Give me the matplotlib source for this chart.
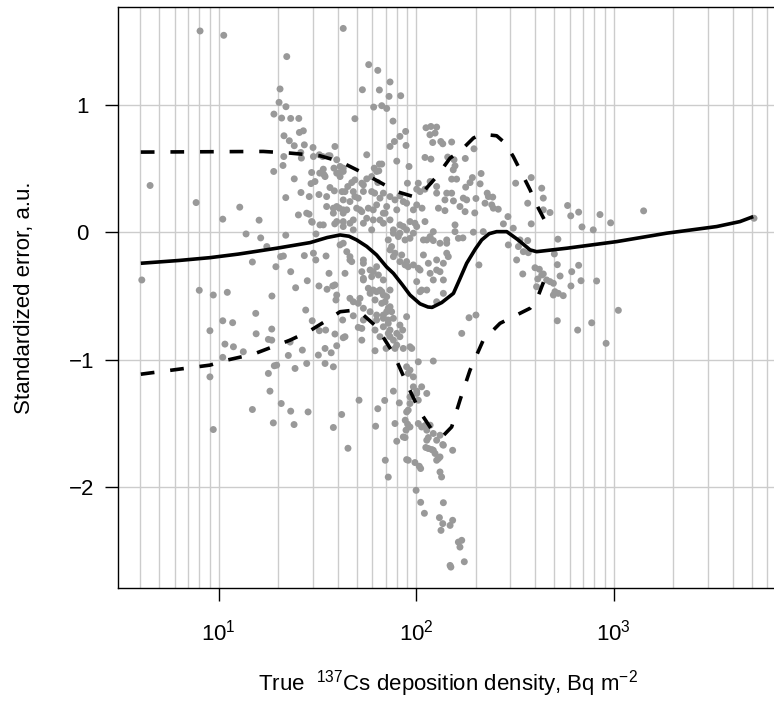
import matplotlib
matplotlib.use("Agg")
import matplotlib.pyplot as plt
from matplotlib.ticker import LogLocator, NullFormatter
import numpy as np

plt.rcParams['font.family'] = ['Liberation Sans', 'DejaVu Sans']

# scatter: log10 of true deposition density and standardized error
log_dep = [
    0.906, 1.026, 1.631, 1.345, 1.76, 1.806, 1.868, 1.728, 1.814, 1.863, 1.922, 1.311, 1.306, 1.341,
    1.28, 1.319, 1.365, 1.406, 1.69, 1.785, 1.826, 1.851, 1.883, 0.653, 0.886, 1.107, 1.021, 1.205,
    1.139, 1.213, 1.34, 1.409, 1.429, 1.331, 1.358, 1.383, 1.434, 1.416, 1.478, 1.33, 1.326, 1.279,
    1.419, 1.471, 1.512, 1.53, 1.534, 1.564, 1.589, 1.383, 1.34, 1.417, 1.459, 1.468, 1.508, 1.547,
    1.404, 1.458, 1.474, 1.53, 1.588, 1.631, 1.75, 1.902, 1.949, 1.947, 1.918, 1.89, 1.868, 1.814,
    1.788, 1.811, 1.806, 1.75, 1.69, 1.674, 1.654, 1.625, 1.586, 1.564, 1.606, 1.584, 1.615, 1.707,
    1.733, 1.79, 1.834, 1.868, 1.893, 1.935, 1.547, 1.581, 1.611, 1.631, 1.665, 1.699, 1.758, 1.8,
    1.851, 1.834, 1.902, 1.598, 1.631, 1.682, 1.733, 1.783, 1.834, 1.885, 1.935,
    2.05, 2.075, 2.104, 2.07, 2.096, 2.084, 2.125, 2.135, 1.964, 2.18, 2.16, 2.192, 2.197, 2.188,
    2.045, 2.075, 2.249, 2.293, 2.285, 2.329, 2.324, 2.251, 2.273, 2.18, 2.205, 2.045, 2.104, 2.104,
    2.155, 2.18, 1.956, 2.011, 2.003, 2.02, 2.146, 2.189, 2.113, 2.146, 2.222, 2.248, 2.239, 2.256,
    2.297, 2.303, 2.349, 2.366, 2.388, 2.383, 2.391, 2.416, 2.36, 2.504, 2.565, 2.583, 2.636, 2.644,
    2.644, 2.678, 2.465, 2.442, 2.492, 2.583, 2.767, 2.823, 2.84, 2.897, 2.718, 2.565, 2.526, 2.467,
    2.29, 2.34, 2.237, 2.197, 2.214, 2.155, 2.121, 2.087, 2.054, 2.037, 2.087, 2.045, 1.994, 1.986,
    1.48, 1.527, 1.555, 1.539, 1.598, 1.615, 1.631, 1.725, 1.775, 1.826, 1.64, 1.682, 1.775, 1.817,
    1.918, 1.446, 1.471, 1.513, 1.581, 1.631, 1.631, 1.682, 1.725, 1.75, 1.775, 1.817, 1.843, 1.868,
    1.952, 2.003, 2.003, 1.969, 1.918, 1.885, 1.859, 1.918, 1.952, 1.944,
    0.611, 0.902, 0.973, 1.044, 1.171, 1.244, 1.29, 1.314, 1.328, 1.365, 1.39, 1.27, 1.434, 1.48,
    1.492, 1.544, 1.559, 1.449, 1.508, 1.549, 1.578, 1.598, 1.594, 1.615, 1.649, 1.665, 1.631, 1.733,
    1.733, 1.783, 1.809, 1.758, 1.767, 1.8, 1.826, 1.851, 1.868, 1.834, 1.868, 1.885, 1.918, 1.944,
    1.665, 1.707, 1.733, 1.767, 1.8, 1.8, 1.834, 1.859, 1.876, 1.885, 1.859, 1.868, 1.834, 1.918,
    1.952, 1.932, 1.885, 1.902, 1.935, 1.707, 1.725, 1.792, 1.848, 1.188, 1.19, 1.269, 1.252, 1.269,
    1.362, 1.424, 1.353, 1.294, 1.282, 1.252, 1.387, 1.446, 1.441, 1.474, 1.51, 1.542, 1.505, 1.539,
    1.57, 1.539, 1.581, 1.598, 1.631, 1.589, 1.628, 1.021, 1.071, 1.032, 1.075, 1.021, 1.125, 0.956,
    0.956, 0.973, 1.171, 1.26, 1.317, 1.365, 1.277, 1.382, 1.453, 1.581, 1.623, 1.655, 1.711, 1.795,
    1.806, 1.841, 1.844, 1.859, 1.893, 1.902, 1.935, 1.915, 1.952, 1.952,
    1.682, 1.885, 1.945, 1.957, 1.969, 1.949, 1.96, 1.994, 2.016, 2.023, 1.96, 1.969, 1.969, 1.986,
    2.003, 2.028, 2.054, 2.003, 2.011, 2.011, 2.028, 2.054, 2.062, 2.054, 2.062, 2.087, 2.096, 2.104,
    2.121, 2.087, 2.104, 2.138, 2.185, 2.071, 2.087, 2.011, 1.978, 1.952, 1.96, 1.969, 1.986, 1.902,
    2.129, 2.121,
    2.0, 2.023, 2.042, 2.138, 2.118, 2.135, 2.126, 2.172, 2.185, 2.214, 2.231, 2.222, 2.172, 2.176,
    2.244, 1.944, 2.045, 2.049, 2.079, 2.121, 2.135, 2.113,
    2.783, 2.931, 2.985, 3.152, 3.711, 2.518, 2.543, 2.568, 2.509, 2.54, 2.602, 2.624, 2.636, 2.616,
    2.644, 2.678, 2.7, 2.715, 2.729, 2.788, 2.823, 2.835, 2.784, 2.914, 2.703, 2.695, 2.72, 2.745,
    2.715, 2.818, 2.889, 3.024, 2.962,
    1.51, 1.488, 1.493,
    1.665, 1.674, 1.733, 1.767, 1.8, 1.775, 1.733, 1.725, 1.64, 1.589, 1.682, 1.716, 1.783, 1.817,
    1.834, 1.792, 1.826, 1.843, 1.868, 1.851, 1.834, 1.859, 1.859, 1.868, 1.792, 1.733, 1.725, 1.64,
    1.817, 1.918, 1.893, 1.969, 2.003, 2.028, 2.071, 2.062, 2.104, 2.138, 2.163, 2.155, 2.037, 1.986,
    2.011, 1.952, 1.927, 1.893, 1.876, 1.91, 1.969, 2.071, 2.231, 2.268, 2.303, 2.318, 2.61, 2.661,
    2.695,
    2.03, 1.986, 2.071, 2.197, 1.598, 1.631, 1.733, 1.8, 1.69, 1.598, 1.649, 1.716, 1.783, 1.665,
    2.104, 2.121, 2.087, 2.138, 2.054, 2.02, 2.104, 2.138, 1.96, 2.02, 2.155,
]
std_err = [
    1.58, 1.546, 1.60, 1.379, 1.316, 1.271, 1.18, 1.119, 1.117, 1.067, 1.072, 1.125, 1.02, 0.986,
    0.928, 0.897, 0.894, 0.894, 0.892, 0.983, 0.994, 0.972, 0.873, 0.368, 0.234, 0.198, 0.104, 0.096,
    -0.012, -0.043, -0.022, 0.784, 0.797, 0.758, 0.719, 0.68, 0.687, 0.627, 0.666, 0.595, 0.525, 0.478,
    0.583, 0.47, 0.465, 0.496, 0.452, 0.601, 0.674, 0.42, 0.273, 0.313, 0.281, 0.383, 0.297, 0.281,
    0.137, 0.143, 0.08, 0.059, 0.067, 0.085, 0.609, 0.559, 0.682, 0.792, 0.753, 0.713, 0.674, 0.536,
    0.504, 0.483, 0.391, 0.42, 0.412, 0.391, 0.36, 0.32, 0.326, 0.352, 0.465, 0.504, 0.517, 0.269,
    0.321, 0.308, 0.308, 0.281, 0.255, 0.242, 0.203, 0.19, 0.19, 0.177, 0.242, 0.19, 0.19, 0.216,
    0.203, 0.151, 0.177, 0.085, 0.046, 0.02, 0.072, 0.098, 0.072, 0.02, 0.046,
    0.821, 0.831, 0.826, 0.766, 0.779, 0.705, 0.713, 0.695, 0.517, 0.709, 0.591, 0.57, 0.522, 0.491,
    0.588, 0.575, 0.58, 0.656, 0.43, 0.462, 0.381, 0.355, 0.391, 0.418, 0.418, 0.339, 0.36, 0.308,
    0.308, 0.308, 0.386, 0.386, 0.339, 0.32, 0.255, 0.247, 0.19, 0.171, 0.203, 0.163, 0.269, 0.255,
    0.153, 0.266, 0.229, 0.281, 0.277, 0.216, 0.19, 0.182, 0.308, 0.386, 0.229, 0.43, 0.347, 0.269,
    0.177, 0.156, 0.124, 0.067, 0.033, 0.067, 0.211, 0.159, 0.043, 0.02, -0.053, -0.064, -0.059, -0.098,
    0.002, 0.006, -0.043, 0.006, -0.046, -0.059, -0.085, -0.064, -0.059, -0.059, 0.006, 0.085, 0.072, -0.006,
    0.595, 0.595, 0.601, 0.438, 0.465, 0.438, 0.478, 0.386, 0.438, 0.536, 0.32, 0.32, 0.32, 0.269,
    0.287, 0.151, 0.085, 0.059, 0.151, 0.255, 0.151, 0.098, 0.163, 0.111, 0.02, 0.098, 0.151, 0.098,
    0.229, 0.216, 0.046, 0.085, 0.059, -0.006, -0.059, -0.006, 0.02, -0.059,
    -0.373, -0.454, -0.491, -0.47, -0.232, -0.111, -0.269, -0.19, -0.185, -0.308, -0.434, -0.499, -0.182, -0.163,
    -0.216, -0.185, -0.321, -0.379, -0.42, -0.446, -0.42, -0.491, -0.53, -0.098, -0.151, -0.216, -0.085, -0.242,
    -0.36, -0.308, -0.334, -0.438, -0.478, -0.465, -0.465, -0.504, -0.452, -0.373, -0.137, -0.19, -0.229, -0.255,
    -0.517, -0.556, -0.595, -0.622, -0.648, -0.687, -0.648, -0.595, -0.622, -0.674, -0.713, -0.766, -0.74, -0.727,
    -0.661, -0.766, -0.845, -0.884, -0.91, -0.745, -0.845, -0.928, -0.91, -0.635, -0.795, -0.758, -0.839, -0.845,
    -0.86, -0.923, -0.965, -1.041, -1.046, -1.106, -1.067, -1.028, -0.609, -0.693, -0.771, -0.766, -0.962, -0.91,
    -0.944, -1.028, -1.054, -0.889, -0.826, -0.797, -0.687, -0.693, -0.708, -0.876, -0.897, -0.98, -0.936, -0.771,
    -1.133, -1.546, -1.389, -1.245, -1.342, -1.402, -1.494, -1.507, -1.408, -1.53, -1.428, -1.693, -1.316, -1.52,
    -1.383, -1.318, -1.787, -1.919, -1.499, -1.638, -1.604, -1.337, -1.408, -1.782,
    -0.654, -1.245, -1.473, -1.504, -1.526, -1.551, -1.787, -1.805, -1.834, -1.852, -1.394, -1.342, -1.29, -1.211,
    -1.245, -1.211, -1.263, -1.263, -1.316, -1.499, -1.526, -1.551, -1.609, -1.63, -1.695, -1.709, -1.734, -1.787,
    -1.761, -1.577, -1.63, -1.669, -1.709, -1.512, -1.009, -1.015, -0.91, -1.054, -1.106, -1.08, -1.133, -0.792,
    -1.918, -1.879,
    -2.023, -2.117, -2.203, -2.12, -2.237, -2.284, -2.337, -2.298, -2.258, -2.429, -2.415, -2.468, -2.612, -2.625,
    -2.583, -1.609, -1.515, -1.687, -1.703, -1.591, -1.664, -1.774,
    0.13, 0.14, 0.075, 0.169, 0.111, -0.111, -0.151, -0.159, -0.216, -0.326, -0.277, -0.289, -0.334, -0.365,
    -0.326, -0.386, -0.169, -0.253, -0.342, -0.308, -0.258, -0.379, -0.42, -0.381, -0.465, -0.491, -0.478, -0.496,
    -0.693, -0.766, -0.709, -0.611, -0.87,
    0.609, 0.399, -0.012,
    -0.19, -0.229, -0.216, -0.295, -0.269, -0.347, -0.373, -0.308, -0.321, -0.412, -0.544, -0.517, -0.452, -0.452,
    -0.491, -0.53, -0.556, -0.544, -0.583, -0.622, -0.674, -0.687, -0.792, -0.818, -0.766, -0.687, -0.753, -0.818,
    -0.818, -0.818, -0.91, -0.897, -0.386, -0.452, -0.321, -0.242, -0.216, -0.242, -0.19, -0.085, -0.177, -0.255,
    -0.281, -0.229, -0.177, -0.163, -0.111, -0.033, -0.046, -0.033, -0.792, -0.669, -0.648, -0.255, -0.426, -0.373,
    -0.399,
    0.19, 0.177, 0.399, 0.059, 0.57, 0.504, 0.373, 0.478, 0.281, 0.203, 0.177, 0.177, 0.177, 0.072,
    -0.295, -0.308, -0.373, -0.373, -0.452, -0.465, -0.544, -0.478, -0.269, -0.295, -0.163,
]

# smoothed mean and band (log10 x, y)
mean_lx = [0.606, 0.8, 0.956, 1.1, 1.294, 1.463, 1.55, 1.615, 1.66, 1.699, 1.75, 1.8, 1.85, 1.885,
           1.93, 1.969, 2.02, 2.06, 2.081, 2.13, 2.189, 2.22, 2.256, 2.3, 2.332, 2.37, 2.408, 2.459,
           2.517, 2.577, 2.61, 2.763, 3.016, 3.269, 3.522, 3.64, 3.707]
mean_y = [-0.242, -0.22, -0.198, -0.17, -0.124, -0.08, -0.04, -0.02, -0.03, -0.059, -0.11, -0.177,
          -0.27, -0.321, -0.41, -0.491, -0.56, -0.585, -0.588, -0.55, -0.478, -0.37, -0.242, -0.13,
          -0.059, -0.01, 0.006, 0.006, -0.059, -0.137, -0.151, -0.124, -0.072, -0.006, 0.046, 0.085, 0.124]

upper_lx = [0.606, 1.226, 1.362, 1.513, 1.615, 1.733, 1.902, 1.986, 2.037, 2.104, 2.172, 2.222,
            2.29, 2.332, 2.408, 2.45, 2.492, 2.526, 2.577, 2.619, 2.65]
upper_y = [0.63, 0.635, 0.622, 0.601, 0.556, 0.465, 0.32, 0.281, 0.32, 0.438, 0.583, 0.635,
           0.74, 0.771, 0.758, 0.701, 0.595, 0.491, 0.334, 0.19, 0.098]

lower_lx = [0.606, 0.956, 1.041, 1.176, 1.362, 1.463, 1.564, 1.615, 1.691, 1.733, 1.8, 1.885, 1.96,
            2.02, 2.087, 2.113, 2.14, 2.18, 2.222, 2.273, 2.34, 2.425, 2.492, 2.577, 2.61, 2.645]
lower_y = [-1.112, -1.041, -1.002, -0.955, -0.845, -0.771, -0.674, -0.622, -0.609, -0.648, -0.74,
           -0.949, -1.211, -1.408, -1.565, -1.577, -1.59, -1.526, -1.316, -1.08, -0.845, -0.713,
           -0.661, -0.595, -0.53, -0.39]

W, H = 774, 702
fig = plt.figure(figsize=(W / 100, H / 100), dpi=100)
ax = fig.add_axes([117.5 / W, (H - 588) / H, (779 - 117.5) / W, 581 / H])

grid_c = '#cccccc'
ax.set_xscale('log')
ax.set_xlim(10 ** 0.488, 10 ** 3.8375)
ax.set_ylim(-2.789, 1.768)
ax.xaxis.set_minor_locator(LogLocator(base=10, subs=np.arange(2, 10), numticks=50))
ax.xaxis.set_minor_formatter(NullFormatter())
ax.set_xticks([10, 100, 1000])
ax.set_yticks([-2, -1, 0, 1])
ax.grid(True, which='major', color=grid_c, lw=1.0, zorder=0)
ax.grid(True, which='minor', axis='x', color=grid_c, lw=1.0, zorder=0)
ax.set_axisbelow(True)

ax.scatter(10 ** np.array(log_dep), std_err, s=25, color='#999999', edgecolors='none', zorder=2)

ax.plot(10 ** np.array(mean_lx), mean_y, color='black', lw=2.6, zorder=3,
        solid_capstyle='butt')
for lx, ly in [(upper_lx, upper_y), (lower_lx, lower_y)]:
    ax.plot(10 ** np.array(lx), ly, color='black', lw=2.6, zorder=3,
            dashes=(3.8, 4.4), dash_capstyle='butt')

for s in ax.spines.values():
    s.set_linewidth(1.0)
ax.tick_params(which='major', direction='out', length=9.5, width=1.0, labelsize=16)
ax.tick_params(which='minor', length=0)
ax.tick_params(axis='y', pad=16)
ax.tick_params(axis='x', pad=13)
for lab in ax.get_yticklabels():
    lab.set_horizontalalignment('center')

ax.set_ylabel('Standardized error, a.u.', fontsize=16, va='center')
ax.yaxis.set_label_coords((24 - 117.5) / (779 - 117.5), 0.5)
ax.set_xlabel(r'True  $\mathdefault{^{137}}$Cs deposition density, Bq m$\mathdefault{^{-2}}$',
              fontsize=16, va='top')
ax.xaxis.set_label_coords(0.5, -(668 - 588) / 581)

fig.savefig('out.png', dpi=100)
